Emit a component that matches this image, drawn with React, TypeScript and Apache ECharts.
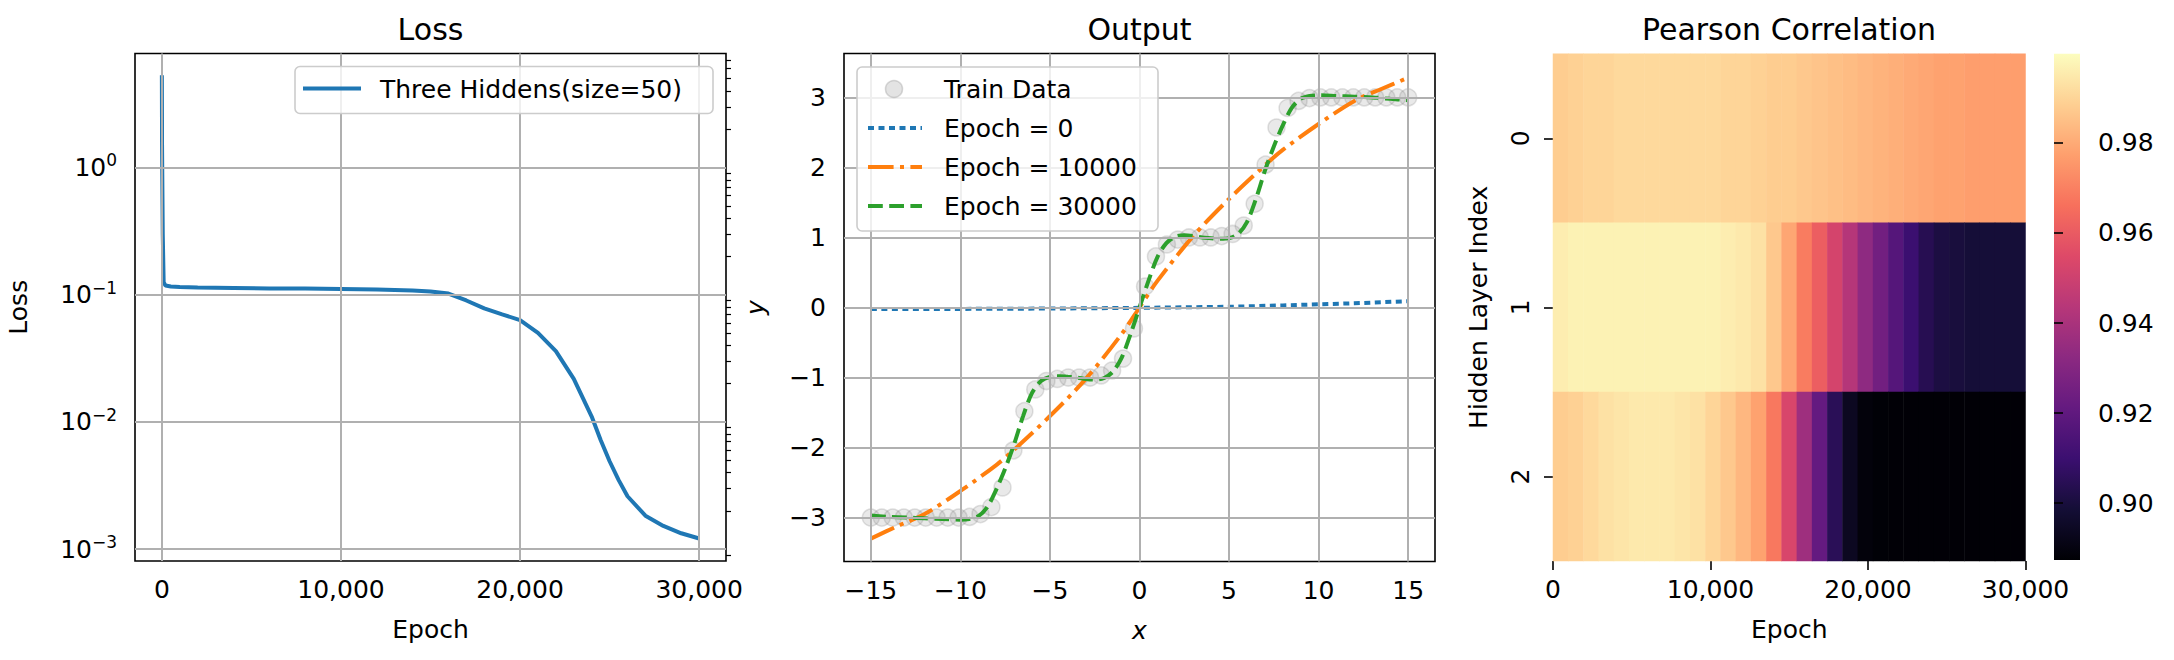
import React, { useEffect, useRef } from "react";
import * as echarts from "echarts";

const FONT = "DejaVu Sans";

// ---- Loss panel ----
const lossEpochs = [0, 10, 50, 100, 200, 500, 1000, 2000, 4000, 6000, 8000, 10000, 12000, 14000, 15000, 16000, 17000, 18000, 19000, 20000, 21000, 22000, 23000, 24000, 24500, 25000, 25500, 26000, 27000, 28000, 29000, 30000];
const lossValues = [5.3, 1.5, 0.3, 0.125, 0.118, 0.116, 0.115, 0.114, 0.113, 0.112, 0.112, 0.111, 0.110, 0.108, 0.106, 0.102, 0.090, 0.078, 0.070, 0.063, 0.050, 0.036, 0.0218, 0.011, 0.0072, 0.0049, 0.0035, 0.0026, 0.00183, 0.00152, 0.00133, 0.00121];
const lossXTicks = [0, 10000, 20000, 30000];
const lossYTicks = [-3, -2, -1, 0];

// ---- Output panel ----
const trainX = [-15, -14.39, -13.78, -13.16, -12.55, -11.94, -11.33, -10.71, -10.1, -9.49, -8.88, -8.27, -7.65, -7.04, -6.43, -5.82, -5.2, -4.59, -3.98, -3.37, -2.76, -2.14, -1.53, -0.92, -0.31, 0.31, 0.92, 1.53, 2.14, 2.76, 3.37, 3.98, 4.59, 5.2, 5.82, 6.43, 7.04, 7.65, 8.27, 8.88, 9.49, 10.1, 10.71, 11.33, 11.94, 12.55, 13.16, 13.78, 14.39, 15];
const trainY = [-3, -3, -3, -3, -3, -3, -3, -3, -3, -2.99, -2.95, -2.85, -2.57, -2.04, -1.48, -1.17, -1.05, -1.02, -1.0, -1.0, -1.0, -0.97, -0.9, -0.73, -0.3, 0.3, 0.73, 0.9, 0.97, 1.0, 1.0, 1.0, 1.02, 1.05, 1.17, 1.48, 2.04, 2.57, 2.85, 2.95, 2.99, 3, 3, 3, 3, 3, 3, 3, 3, 3];
const epoch0X = [-15, -10, -5, 0, 5, 8, 10, 12, 15];
const epoch0Y = [-0.02, -0.02, -0.015, -0.005, 0.01, 0.03, 0.045, 0.06, 0.09];
const epoch10kX = [-15, -13.5, -12, -10, -8, -7, -5, -3, -1, 0, 1, 3, 5, 7, 8, 10, 12, 13.5, 15];
const epoch10kY = [-3.3, -3.12, -2.95, -2.62, -2.25, -2.03, -1.55, -1.02, -0.38, 0, 0.38, 1.02, 1.55, 2.03, 2.25, 2.62, 2.95, 3.12, 3.28];
const epoch30kX = [-15, -14, -13, -12, -11, -10, -9.5, -9, -8.5, -8, -7.5, -7, -6.5, -6, -5.5, -5, -4.5, -4, -3.5, -3, -2.5, -2, -1.5, -1, -0.5, 0, 0.5, 1, 1.5, 2, 2.5, 3, 3.5, 4, 4.5, 5, 5.5, 6, 6.5, 7, 7.5, 8, 8.5, 9, 9.5, 10, 11, 12, 13, 14, 15];
const epoch30kY = [-2.97, -2.99, -3.0, -3.01, -3.02, -3.03, -3.02, -2.98, -2.85, -2.6, -2.3, -1.95, -1.55, -1.22, -1.05, -0.99, -0.98, -0.99, -1.0, -1.02, -1.03, -1.01, -0.92, -0.72, -0.38, 0, 0.38, 0.72, 0.92, 1.01, 1.03, 1.02, 1.0, 0.99, 0.98, 0.99, 1.05, 1.22, 1.55, 1.95, 2.3, 2.6, 2.85, 2.98, 3.02, 3.03, 3.02, 3.01, 3.0, 2.98, 2.96];
const outXTicks = [-15, -10, -5, 0, 5, 10, 15];
const outYTicks = [-3, -2, -1, 0, 1, 2, 3];

// ---- Heatmap panel ----
const heatEpochs = [0, 1000, 2000, 3000, 4000, 5000, 6000, 7000, 8000, 9000, 10000, 11000, 12000, 13000, 14000, 15000, 16000, 17000, 18000, 19000, 20000, 21000, 22000, 23000, 24000, 25000, 26000, 27000, 28000, 29000, 30000];
const layers = ["0", "1", "2"];
const corrLayer0 = [0.988, 0.989, 0.99, 0.99, 0.991, 0.991, 0.991, 0.991, 0.991, 0.991, 0.991, 0.99, 0.99, 0.989, 0.988, 0.988, 0.987, 0.986, 0.985, 0.984, 0.983, 0.982, 0.981, 0.98, 0.979, 0.978, 0.978, 0.977, 0.977, 0.977, 0.977];
const corrLayer1 = [0.996, 0.997, 0.997, 0.997, 0.997, 0.997, 0.997, 0.997, 0.997, 0.997, 0.997, 0.996, 0.995, 0.993, 0.987, 0.979, 0.969, 0.961, 0.952, 0.943, 0.933, 0.925, 0.917, 0.91, 0.904, 0.901, 0.9, 0.899, 0.899, 0.899, 0.899];
const corrLayer2 = [0.988, 0.989, 0.991, 0.993, 0.994, 0.995, 0.995, 0.995, 0.994, 0.993, 0.99, 0.987, 0.983, 0.978, 0.968, 0.953, 0.937, 0.921, 0.905, 0.894, 0.889, 0.888, 0.8878, 0.8878, 0.8878, 0.8878, 0.8878, 0.8878, 0.8878, 0.8878, 0.8878];
const heatXTicks = [0, 10000, 20000, 30000];
const cbarTicks = [0.9, 0.92, 0.94, 0.96, 0.98];
const cbarMin = 0.8874;
const cbarMax = 0.9998;

const magma = ["#000004", "#140e36", "#3b0f70", "#641a80", "#8c2981", "#b73779", "#de4968", "#f7705c", "#fe9f6d", "#fecf92", "#fcfdbf"];

const GRID_COLOR = "#b0b0b0";
const minus = (v: number) => String(v).replace("-", "\u2212");

function gridLines(xs: number[], ys: number[]) {
  return {
    type: "line",
    data: [],
    silent: true,
    z: 1,
    markLine: {
      silent: true,
      symbol: "none",
      label: { show: false },
      lineStyle: { color: GRID_COLOR, width: 2, type: "solid" },
      data: [...xs.map((v) => ({ xAxis: v })), ...ys.map((v) => ({ yAxis: v }))],
    },
  };
}

export default function App() {
  const ref = useRef<HTMLDivElement>(null);
  useEffect(() => {
    if (!ref.current) return;
    const chart = echarts.init(ref.current, undefined, { renderer: "svg" });
    const tickStyle = { color: "#000", width: 1.6 };
    const labelStyle = { color: "#000", fontSize: 25, fontFamily: FONT };
    const nameStyle = { color: "#000", fontSize: 25, fontFamily: FONT };

    const minorLog: number[] = [];
    for (let d = -4; d <= 0; d++) for (let k = 2; k <= 9; k++) {
      const v = d + Math.log10(k);
      if (v > -3.094 && v < 0.896) minorLog.push(v);
    }

    const heatData: any[] = [];
    [corrLayer0, corrLayer1, corrLayer2].forEach((row, r) => row.forEach((v, c) => heatData.push([c, r, v])));

    const grids = [
      { left: 135, top: 53.5, width: 591, height: 507.5, show: true, borderColor: "#000", borderWidth: 1.6, backgroundColor: "transparent" },
      { left: 844, top: 53.5, width: 591, height: 508, show: true, borderColor: "#000", borderWidth: 1.6, backgroundColor: "transparent" },
      { left: 1553, top: 53.7, width: 472.5, height: 507.3 },
      { left: 2054, top: 53.7, width: 26, height: 506.3 },
    ];

    const option: any = {
      animation: false,
      grid: grids,
      visualMap: {
        show: false, seriesIndex: 7, min: cbarMin, max: cbarMax, dimension: 2,
        inRange: { color: magma },
      },
      xAxis: [
        {
          gridIndex: 0, type: "value", min: -1500, max: 31500,
          splitLine: { show: false }, axisLine: { show: false },
          axisTick: { show: true, length: 9, lineStyle: tickStyle, customValues: lossXTicks },
          axisLabel: { ...labelStyle, margin: 16, customValues: lossXTicks },
          name: "Epoch", nameLocation: "middle", nameGap: 56, nameTextStyle: nameStyle,
        },
        {
          gridIndex: 1, type: "value", min: -16.5, max: 16.5,
          splitLine: { show: false }, axisLine: { show: false },
          axisTick: { show: true, length: 9, lineStyle: tickStyle, customValues: outXTicks },
          axisLabel: { ...labelStyle, margin: 16, customValues: outXTicks, formatter: (v: number) => minus(v) },
          name: "x", nameLocation: "middle", nameGap: 56, nameTextStyle: { ...nameStyle, fontStyle: "italic" },
        },
        {
          gridIndex: 2, type: "category", data: heatEpochs.map(String), show: false,
        },
        {
          gridIndex: 2, type: "value", min: 0, max: 30000, interval: 10000, position: "bottom",
          splitLine: { show: false }, axisLine: { show: false },
          axisTick: { show: true, length: 9, lineStyle: tickStyle },
          axisLabel: { ...labelStyle, margin: 16 },
          name: "Epoch", nameLocation: "middle", nameGap: 56, nameTextStyle: nameStyle,
        },
        { gridIndex: 3, type: "value", show: false, min: 0, max: 1 },
      ],
      yAxis: [
        {
          gridIndex: 0, type: "value", min: -3.094, max: 0.896,
          splitLine: { show: false }, axisLine: { show: false },
          axisTick: { show: true, length: 9, lineStyle: tickStyle, customValues: lossYTicks },
          axisLabel: {
            ...labelStyle, margin: 18, customValues: lossYTicks,
            formatter: (v: number) => "10{s|" + minus(Math.round(v)) + "}",
            rich: { s: { fontSize: 17, fontFamily: FONT, color: "#000", padding: [0, 0, 14, 0] } },
          },
          name: "Loss", nameLocation: "middle", nameGap: 104, nameTextStyle: nameStyle,
        },
        {
          gridIndex: 0, type: "value", min: -3.094, max: 0.896,
          splitLine: { show: false }, axisLine: { show: false },
          axisTick: { show: true, length: 5, lineStyle: { color: "#000", width: 1.2 }, customValues: minorLog },
          axisLabel: { show: false },
        },
        {
          gridIndex: 1, type: "value", min: -3.627, max: 3.627,
          splitLine: { show: false }, axisLine: { show: false },
          axisTick: { show: true, length: 9, lineStyle: tickStyle, customValues: outYTicks },
          axisLabel: { ...labelStyle, margin: 18, customValues: outYTicks, formatter: (v: number) => minus(v) },
          name: "y", nameLocation: "middle", nameGap: 76, nameTextStyle: { ...nameStyle, fontStyle: "italic" },
        },
        {
          gridIndex: 2, type: "category", data: layers, inverse: true,
          splitLine: { show: false }, axisLine: { show: false },
          axisTick: { show: true, length: 9, alignWithLabel: true, lineStyle: tickStyle },
          axisLabel: { ...labelStyle, margin: 20, rotate: 90 },
          name: "Hidden Layer Index", nameLocation: "middle", nameGap: 62, nameTextStyle: nameStyle,
        },
        {
          gridIndex: 3, type: "value", min: cbarMin, max: cbarMax, position: "right",
          splitLine: { show: false }, axisLine: { show: false },
          axisTick: { show: true, length: 9, lineStyle: tickStyle, customValues: cbarTicks },
          axisLabel: { ...labelStyle, margin: 18, customValues: cbarTicks, formatter: (v: number) => v.toFixed(2) },
        },
      ],
      series: [
        { ...gridLines(lossXTicks, lossYTicks), xAxisIndex: 0, yAxisIndex: 0 },
        {
          name: "Three Hiddens(size=50)", type: "line", xAxisIndex: 0, yAxisIndex: 0, z: 3,
          data: lossEpochs.map((e, i) => [e, Math.log10(lossValues[i])]),
          showSymbol: false, lineStyle: { color: "#1f77b4", width: 4 },
        },
        { ...gridLines(outXTicks, outYTicks), xAxisIndex: 1, yAxisIndex: 2 },
        {
          name: "Train Data", type: "scatter", xAxisIndex: 1, yAxisIndex: 2, z: 2,
          data: trainX.map((x, i) => [x, trainY[i]]), symbolSize: 17,
          itemStyle: { color: "rgba(128,128,128,0.22)", borderColor: "rgba(128,128,128,0.3)", borderWidth: 1.5 },
        },
        {
          name: "Epoch = 0", type: "line", xAxisIndex: 1, yAxisIndex: 2, z: 3, showSymbol: false,
          data: epoch0X.map((x, i) => [x, epoch0Y[i]]),
          lineStyle: { color: "#1f77b4", width: 4, type: [6, 4.5] },
        },
        {
          name: "Epoch = 10000", type: "line", xAxisIndex: 1, yAxisIndex: 2, z: 3, showSymbol: false, smooth: 0.3,
          data: epoch10kX.map((x, i) => [x, epoch10kY[i]]),
          lineStyle: { color: "#ff7f0e", width: 4, type: [25.6, 6.4, 4, 6.4] },
        },
        {
          name: "Epoch = 30000", type: "line", xAxisIndex: 1, yAxisIndex: 2, z: 3, showSymbol: false, smooth: 0.3,
          data: epoch30kX.map((x, i) => [x, epoch30kY[i]]),
          lineStyle: { color: "#2ca02c", width: 4, type: [14.8, 6.4] },
        },
        {
          type: "heatmap", xAxisIndex: 2, yAxisIndex: 3, data: heatData,
          itemStyle: { borderWidth: 0 },
        },
      ],
      graphic: [
        { type: "text", x: 430.5, y: 29, style: { text: "Loss", font: `30px "${FONT}"`, fill: "#000", textAlign: "center", textVerticalAlign: "middle" } },
        { type: "text", x: 1139.5, y: 29, style: { text: "Output", font: `30px "${FONT}"`, fill: "#000", textAlign: "center", textVerticalAlign: "middle" } },
        { type: "text", x: 1789, y: 29, style: { text: "Pearson Correlation", font: `30px "${FONT}"`, fill: "#000", textAlign: "center", textVerticalAlign: "middle" } },
        // colorbar
        {
          type: "rect", shape: { x: 2054, y: 53.7, width: 26, height: 506.3 },
          style: {
            fill: new echarts.graphic.LinearGradient(0, 1, 0, 0, magma.map((c, i) => ({ offset: i / (magma.length - 1), color: c }))),
          },
        },
        // left legend
        { type: "rect", z: 10, shape: { x: 295, y: 66.5, width: 418, height: 47, r: 5 }, style: { fill: "rgba(255,255,255,0.8)", stroke: "#cccccc", lineWidth: 1.6 } },
        { type: "line", z: 11, shape: { x1: 303, y1: 88.5, x2: 361, y2: 88.5 }, style: { stroke: "#1f77b4", lineWidth: 4 } },
        { type: "text", z: 11, x: 380, y: 89, style: { text: "Three Hiddens(size=50)", font: `25px "${FONT}"`, fill: "#000", textVerticalAlign: "middle" } },
        // middle legend
        { type: "rect", z: 10, shape: { x: 857, y: 67, width: 301, height: 164, r: 5 }, style: { fill: "rgba(255,255,255,0.8)", stroke: "#cccccc", lineWidth: 1.6 } },
        { type: "circle", z: 11, shape: { cx: 894, cy: 100, r: 8.5 }, style: { fill: "rgba(128,128,128,0.22)", stroke: "rgba(128,128,128,0.3)", lineWidth: 1.5 } },
        { type: "line", z: 11, shape: { x1: 868, y1: 147, x2: 922, y2: 147 }, style: { stroke: "#1f77b4", lineWidth: 4, lineDash: [6, 4.5] } },
        { type: "line", z: 11, shape: { x1: 868, y1: 194, x2: 922, y2: 194 }, style: { stroke: "#ff7f0e", lineWidth: 4, lineDash: [25.6, 6.4, 4, 6.4] } },
        { type: "line", z: 11, shape: { x1: 868, y1: 241, x2: 922, y2: 241 }, style: { stroke: "#2ca02c", lineWidth: 4, lineDash: [14.8, 6.4] } },
      ].concat(
        ["Train Data", "Epoch = 0", "Epoch = 10000", "Epoch = 30000"].map((t, i) => ({
          type: "text", z: 11, x: 944, y: 89 + i * 39, style: { text: t, font: `25px "${FONT}"`, fill: "#000", textVerticalAlign: "middle" },
        })) as any
      ),
    };
    // fix legend line rows to match text rows
    const g = option.graphic;
    g[8].shape.cy = 89; g[9].shape.y1 = g[9].shape.y2 = 128; g[10].shape.y1 = g[10].shape.y2 = 167; g[11].shape.y1 = g[11].shape.y2 = 206;
    chart.setOption(option);
    return () => chart.dispose();
  }, []);
  return <div ref={ref} style={{ position: "fixed", left: 0, top: 0, width: 2174, height: 660, background: "#fff" }} />;
}
